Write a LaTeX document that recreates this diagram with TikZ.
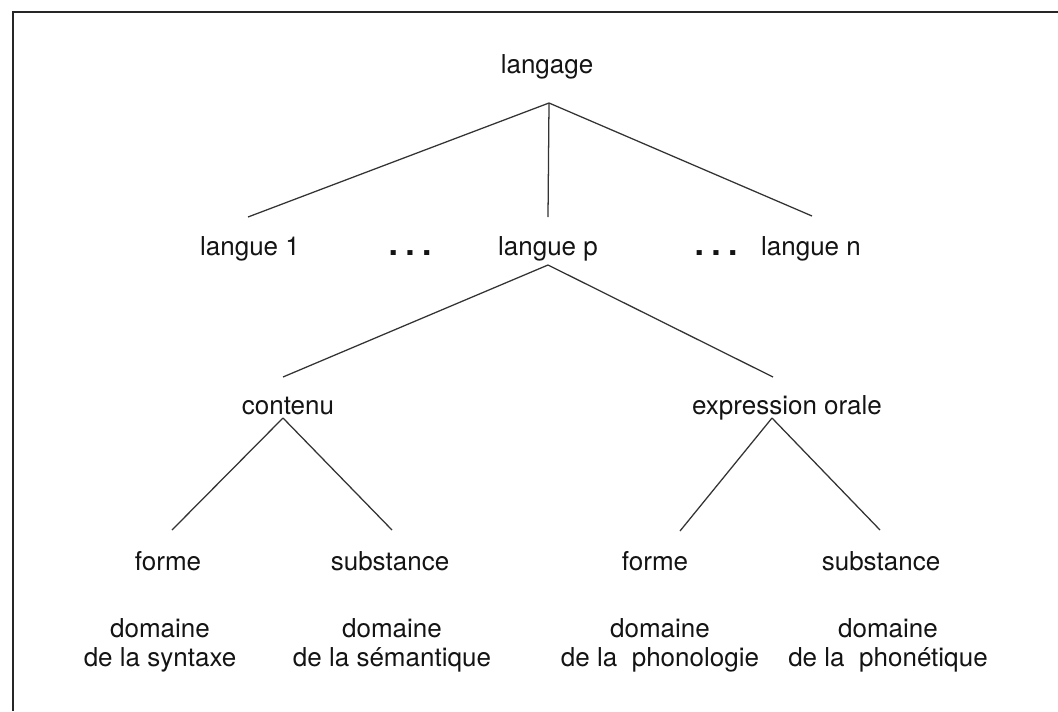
\documentclass[tikz,border=0pt]{standalone}
\usepackage{fontspec}
\setmainfont{TeX Gyre Heros}
\begin{document}
\begin{tikzpicture}[x=0.025cm, y=-0.025cm, main/.style = {inner sep=0pt, anchor=base, text=black!92, font=\fontsize{18.5}{20.6}\selectfont}, two_lines/.style={main, align=center, anchor=north}, ellipsis_dots/.style={main, font=\fontsize{24}{24}\selectfont\bfseries}, branch/.style={draw=black!80, line width=0.9pt}]
        \useasboundingbox (0,0) rectangle (1058,711);
        \draw[line width=1.8pt, black!85] (13,711) -- (13,12) -- (1058,12);
        \node[main] (1) at (547,73) {langage};
        \node[main] (2) at (250,255) {langue 1};
        \node[ellipsis_dots] (3) at (410,255) {.\hspace{0.22em}.\hspace{0.22em}.};
        \node[main] (4) at (548,255) {langue p};
        \node[ellipsis_dots] (5) at (716,255) {.\hspace{0.22em}.\hspace{0.22em}.};
        \node[main] (6) at (811,255) {langue n};
        \node[main] (7) at (288,414) {contenu};
        \node[main] (8) at (787,414) {expression orale};
        \node[main] (9) at (168,570) {forme};
        \node[main] (10) at (390,570) {substance};
        \node[main] (11) at (655,570) {forme};
        \node[main] (12) at (881,570) {substance};
        \node[two_lines] (13) at (160,618) {domaine\\de la syntaxe};
        \node[two_lines] (14) at (392,618) {domaine\\de la sémantique};
        \node[two_lines] (15) at (660,618) {domaine\\de la\ \ phonologie};
        \node[two_lines] (16) at (888,618) {domaine\\de la\ \ phonétique};
        \draw[branch] ([shift={(2,30)}]1.base) -- ([shift={(-2,-38)}]2.base);
        \draw[branch] ([shift={(2,30)}]1.base) -- ([shift={(0,-38)}]4.base);
        \draw[branch] ([shift={(2,30)}]1.base) -- ([shift={(1,-39)}]6.base);
        \draw[branch] ([shift={(0,10)}]4.base) -- ([shift={(-5,-37)}]7.base);
        \draw[branch] ([shift={(0,10)}]4.base) -- ([shift={(-14,-37)}]8.base);
        \draw[branch] ([shift={(-5,4)}]7.base) -- ([shift={(4,-40)}]9.base);
        \draw[branch] ([shift={(-5,4)}]7.base) -- ([shift={(2,-40)}]10.base);
        \draw[branch] ([shift={(-15,4)}]8.base) -- ([shift={(25,-39)}]11.base);
        \draw[branch] ([shift={(-15,4)}]8.base) -- ([shift={(-1,-40)}]12.base);
    \end{tikzpicture}
\end{document}
